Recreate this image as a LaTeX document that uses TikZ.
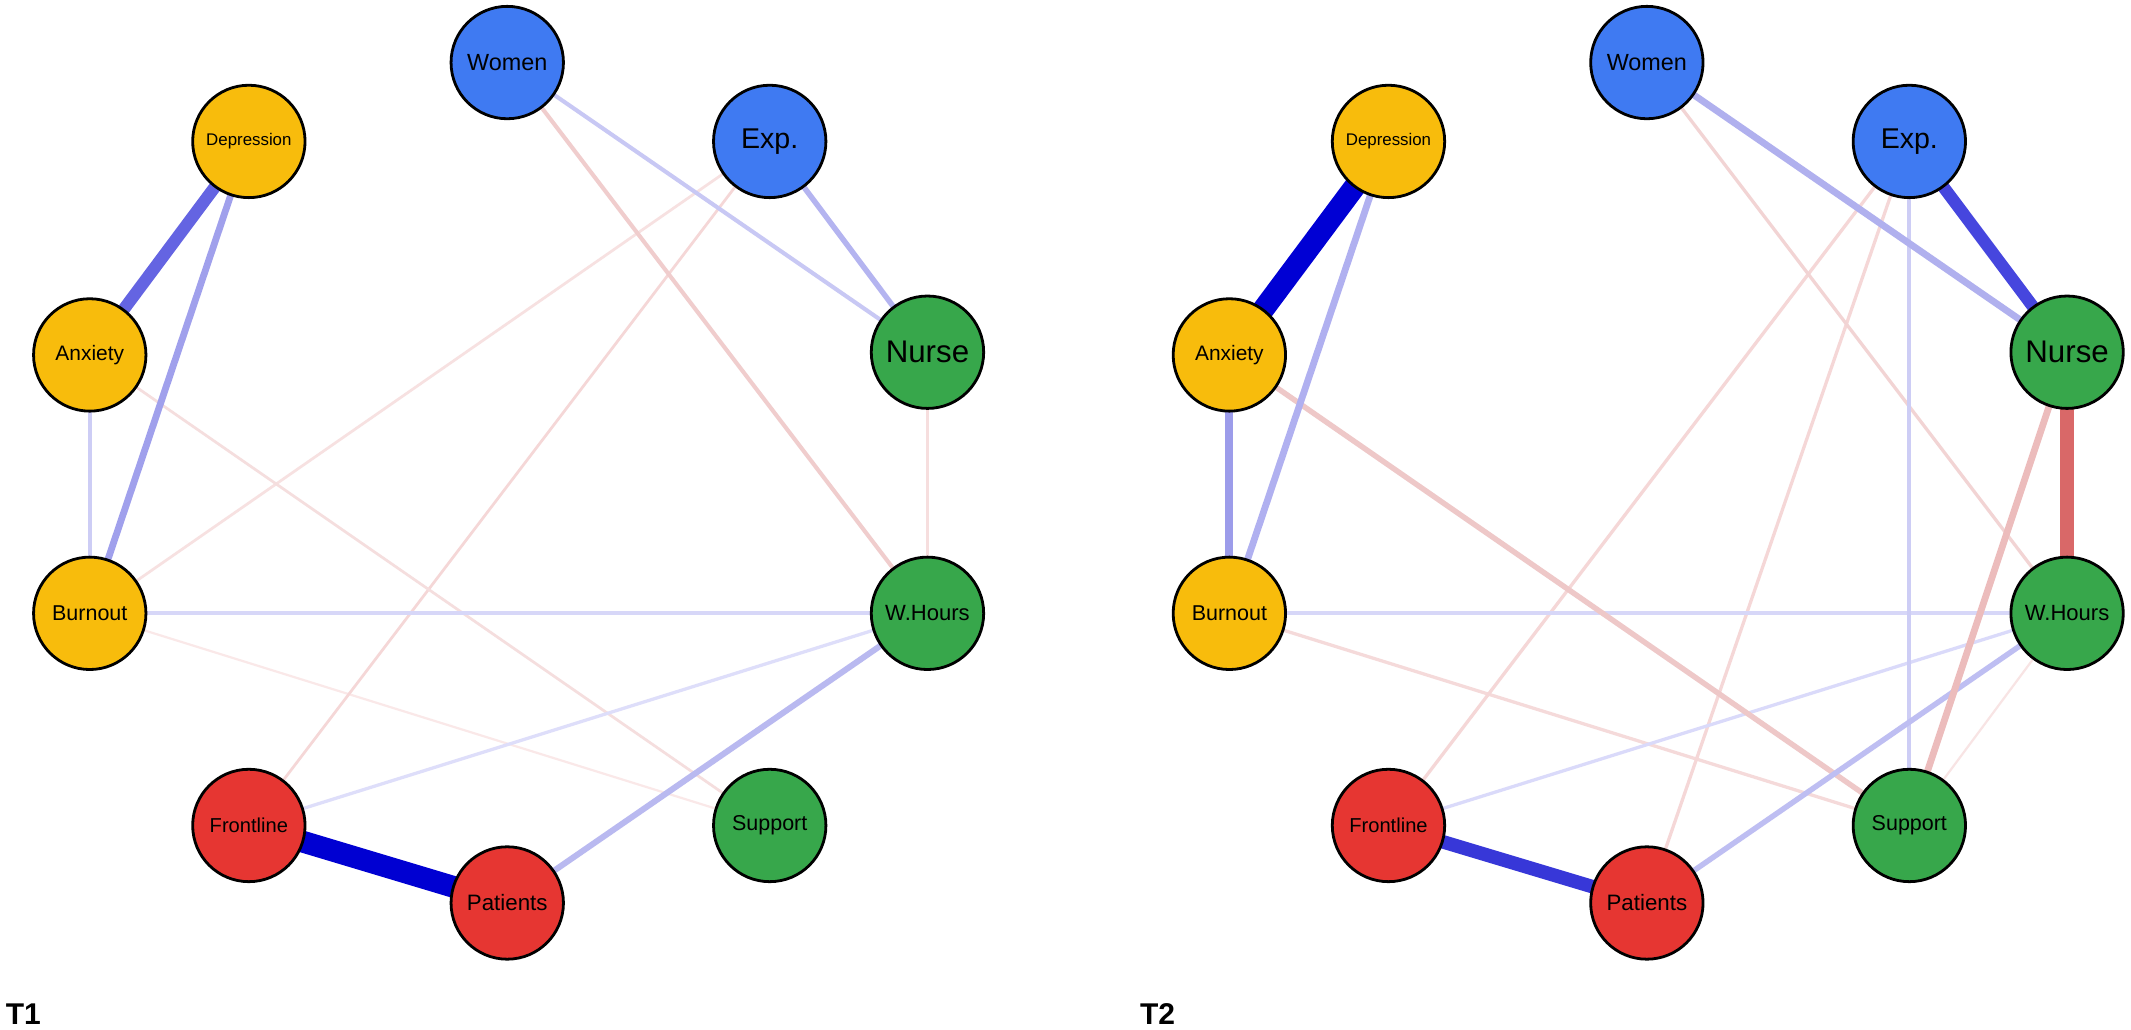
\documentclass[tikz,border=0pt]{standalone}
\usepackage{fontspec}
\setmainfont{Liberation Sans}
\usetikzlibrary{backgrounds}
\definecolor{cyel}{RGB}{248,188,12}
\definecolor{cblu}{RGB}{63,122,242}
\definecolor{cgrn}{RGB}{55,167,75}
\definecolor{cred}{RGB}{230,54,50}
\newcommand\fs[1]{\fontsize{\fpeval{1.36*#1}pt}{\fpeval{1.36*#1}pt}\selectfont}
\newcommand\allnodes{%
  \node[yn,font=\fs{6.2}] (dep) at (183,104) {Depression};
  \node[yn,font=\fs{7.7}] (anx) at (66,261) {Anxiety};
  \node[yn,font=\fs{7.9}] (bur) at (66,451) {Burnout};
  \node[bn,font=\fs{8.6}] (wom) at (373,46) {Women};
  \node[bn,font=\fs{10.5}] (exp) at (566,104) {Exp.};
  \node[gn,font=\fs{11.5}] (nur) at (682,259) {Nurse};
  \node[gn,font=\fs{8.1}] (wh) at (682,451) {W.Hours};
  \node[gn,font=\fs{7.9}] (sup) at (566,607) {Support};
  \node[rn,font=\fs{7.4}] (fro) at (183,607) {Frontline};
  \node[rn,font=\fs{8.2}] (pat) at (373,664) {Patients};
}
\newcommand\ed[4]{\draw[line width=1.36*#1pt,draw={rgb,255:#2}] (#3.center) -- (#4.center);}
\begin{document}
\begin{tikzpicture}[x=0.68pt,y=-0.68pt,
  nd/.style={circle,draw=black,line width=1.4pt,minimum size=56.2pt,inner sep=0pt,text=black},
  yn/.style={nd,fill=cyel},
  bn/.style={nd,fill=cblu},
  gn/.style={nd,fill=cgrn},
  rn/.style={nd,fill=cred},
  tlab/.style={anchor=base west,font=\bfseries\fontsize{15pt}{15pt}\selectfont,inner sep=0pt}]
\useasboundingbox (0,0) rectangle (1567,757.4);
% ---------- T1 ----------
\begin{scope}[name prefix=a-]
  \allnodes
  \begin{scope}[on background layer]
    \fill[white] (0,0) rectangle (1567,757.4);
    \ed{0.8}{red,250;green,232;blue,232}{bur}{sup}
    \ed{1}{red,247;green,225;blue,225}{exp}{bur}
    \ed{1}{red,245;green,215;blue,215}{exp}{fro}
    \ed{1}{red,246;green,222;blue,222}{nur}{wh}
    \ed{1}{red,245;green,222;blue,222}{anx}{sup}
    \ed{1.5}{red,240;green,205;blue,205}{wom}{wh}
    \ed{1.2}{red,222;green,222;blue,250}{wh}{fro}
    \ed{1.5}{red,215;green,215;blue,248}{bur}{wh}
    \ed{1.5}{red,205;green,205;blue,245}{anx}{bur}
    \ed{1.5}{red,200;green,200;blue,244}{wom}{nur}
    \ed{2}{red,180;green,180;blue,240}{exp}{nur}
    \ed{2.2}{red,185;green,185;blue,240}{wh}{pat}
    \ed{2.5}{red,160;green,160;blue,236}{dep}{bur}
    \ed{4.5}{red,100;green,100;blue,226}{dep}{anx}
    \ed{8}{red,0;green,0;blue,210}{fro}{pat}
  \end{scope}
  \node[tlab] (tl) at (4,753) {T1};
\end{scope}
% ---------- T2 ----------
\begin{scope}[name prefix=b-,shift={(838,0)}]
  \allnodes
  \begin{scope}[on background layer]
    \ed{0.8}{red,248;green,228;blue,228}{wh}{sup}
    \ed{1.2}{red,245;green,218;blue,218}{bur}{sup}
    \ed{1.2}{red,245;green,215;blue,215}{exp}{fro}
    \ed{1.2}{red,245;green,215;blue,215}{exp}{pat}
    \ed{1.2}{red,242;green,212;blue,212}{wom}{wh}
    \ed{1.2}{red,218;green,218;blue,250}{wh}{fro}
    \ed{1.5}{red,215;green,215;blue,248}{bur}{wh}
    \ed{1.5}{red,205;green,205;blue,245}{exp}{sup}
    \ed{2}{red,238;green,200;blue,200}{anx}{sup}
    \ed{2}{red,190;green,190;blue,242}{wh}{pat}
    \ed{2.5}{red,236;green,188;blue,188}{nur}{sup}
    \ed{2.5}{red,176;green,176;blue,238}{wom}{nur}
    \ed{2.5}{red,176;green,176;blue,240}{dep}{bur}
    \ed{3}{red,156;green,156;blue,234}{anx}{bur}
    \ed{4.5}{red,70;green,70;blue,222}{exp}{nur}
    \ed{5}{red,217;green,104;blue,104}{nur}{wh}
    \ed{5}{red,55;green,55;blue,216}{fro}{pat}
    \ed{8}{red,0;green,0;blue,212}{dep}{anx}
  \end{scope}
  \node[tlab] (tl) at (0,753) {T2};
\end{scope}
\end{tikzpicture}
\end{document}
